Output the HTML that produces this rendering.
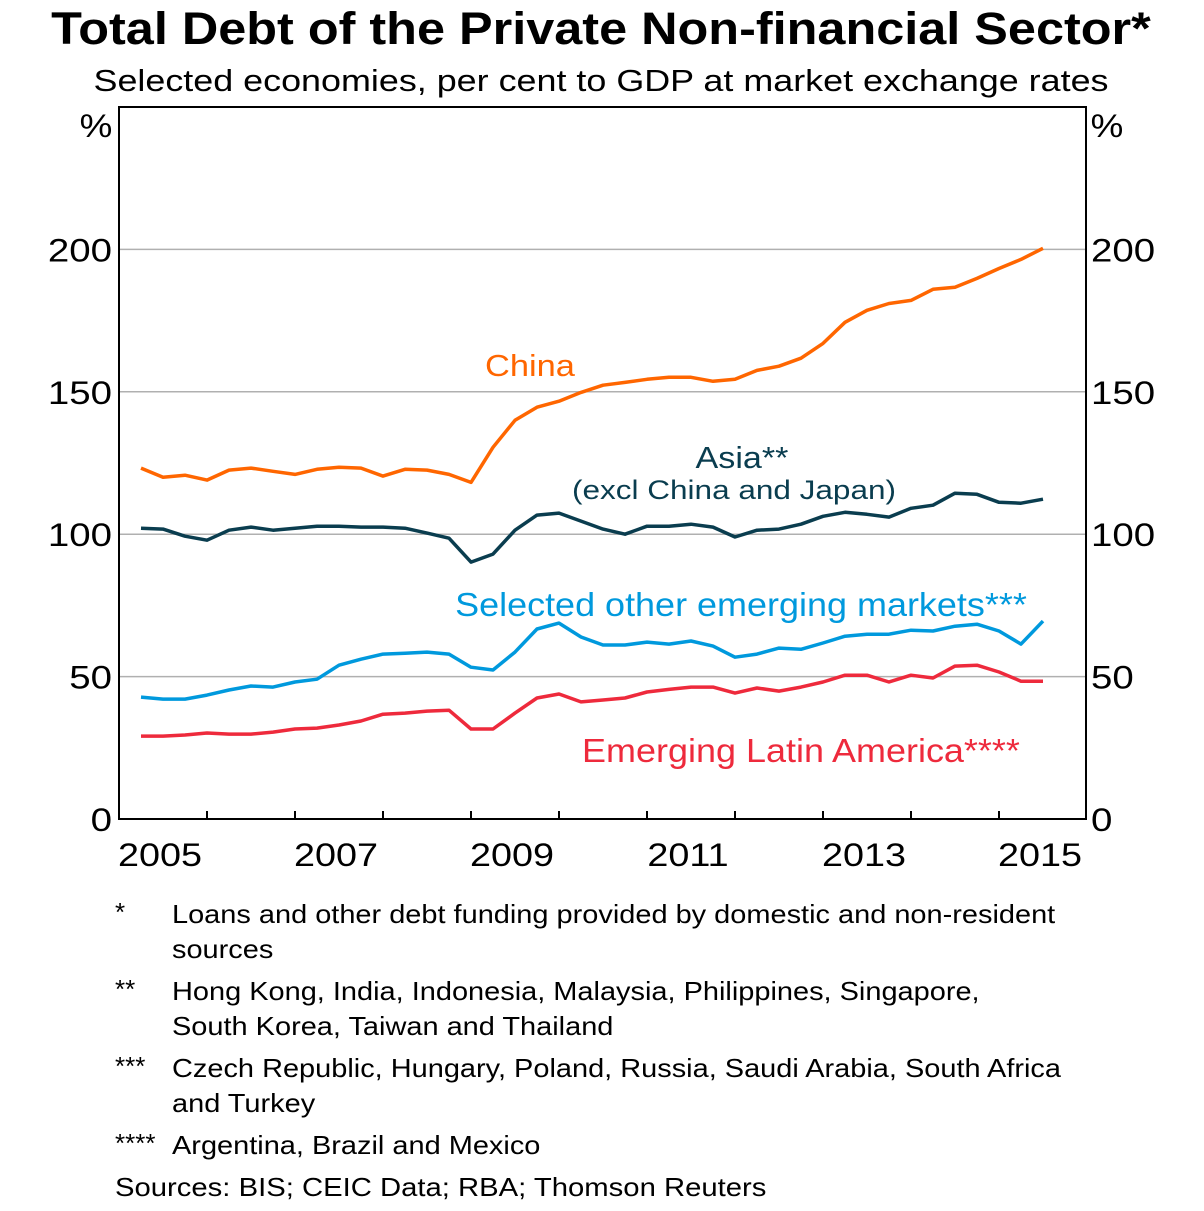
<!DOCTYPE html>
<html><head><meta charset="utf-8"><style>
body{margin:0;background:#fff;}
svg text{font-family:"Liberation Sans",Arial,sans-serif;}
</style></head><body>
<svg id="chart" width="1204" height="1206" viewBox="0 0 1204 1206" xmlns="http://www.w3.org/2000/svg">
<text data-sx="1.12" x="601" y="44" text-anchor="middle" font-size="45" font-weight="bold">Total Debt of the Private Non-financial Sector*</text>
<text data-sx="1.158" x="601" y="91" text-anchor="middle" font-size="31">Selected economies, per cent to GDP at market exchange rates</text>
<g id="grid"></g>
<g id="axes"></g>
<g id="series"></g>
<text data-sx="1.11" x="530" y="376" text-anchor="middle" font-size="31" fill="#ff6600">China</text>
<text data-sx="1.1" x="742" y="468" text-anchor="middle" font-size="31" fill="#0a3d4f">Asia**</text>
<text data-sx="1.167" x="734" y="499" text-anchor="middle" font-size="27" fill="#0a3d4f">(excl China and Japan)</text>
<text data-sx="1.09" x="741" y="616" text-anchor="middle" font-size="33" fill="#0099dd">Selected other emerging markets***</text>
<text data-sx="1.09" x="801" y="762" text-anchor="middle" font-size="33" fill="#ee2a3c">Emerging Latin America****</text>
<g font-size="26">
<text x="115" y="921">*</text><text data-sx="1.113" x="172" y="923">Loans and other debt funding provided by domestic and non-resident</text>
<text data-sx="1.113" x="172" y="958">sources</text>
<text x="115" y="998">**</text><text data-sx="1.113" x="172" y="1000">Hong Kong, India, Indonesia, Malaysia, Philippines, Singapore,</text>
<text data-sx="1.113" x="172" y="1035">South Korea, Taiwan and Thailand</text>
<text x="115" y="1075">***</text><text data-sx="1.113" x="172" y="1077">Czech Republic, Hungary, Poland, Russia, Saudi Arabia, South Africa</text>
<text data-sx="1.113" x="172" y="1112">and Turkey</text>
<text x="115" y="1152">****</text><text data-sx="1.113" x="172" y="1154">Argentina, Brazil and Mexico</text>
<text data-sx="1.125" x="115" y="1196">Sources:  BIS; CEIC Data; RBA; Thomson Reuters</text>
</g>
</svg>
<script>
const years = ["2005","2006","2007","2008","2009","2010","2011","2012","2013","2014","2015"];
const yTicks = [0,50,100,150,200];
const china = [123.2,120,120.7,119,122.5,123.2,122.1,121,122.8,123.5,123.2,120.4,122.8,122.5,121,118.2,130.5,140,144.6,146.7,149.8,152.3,153.3,154.4,155.1,155.1,153.7,154.4,157.5,159,161.8,167,174.4,178.6,181,182.1,186,186.7,189.8,193.3,196.5,200.4];
const asia = [102.1,101.8,99.3,97.9,101.4,102.5,101.4,102.1,102.8,102.8,102.5,102.5,102.1,100.4,98.6,90.2,93,101.4,106.7,107.4,104.6,101.8,100,102.8,102.8,103.5,102.5,99,101.4,101.8,103.5,106.3,107.7,107,106,109.1,110.2,114.4,114,111.2,110.9,112.3];
const otherEM = [42.8,42.1,42.1,43.5,45.3,46.7,46.3,48.1,49.1,54,56.1,57.9,58.2,58.6,57.9,53.3,52.3,58.6,66.7,68.8,63.9,61.1,61.1,62.1,61.4,62.5,60.7,56.8,57.9,60,59.6,61.8,64.2,64.9,64.9,66.3,66,67.7,68.4,66,61.4,69.5];
const latam = [29.1,29.1,29.5,30.2,29.8,29.8,30.5,31.6,31.9,33,34.4,36.8,37.2,37.9,38.2,31.6,31.6,37.2,42.5,43.9,41.1,41.8,42.5,44.6,45.5,46.3,46.3,44.2,46,44.9,46.3,48.1,50.5,50.5,48.1,50.5,49.5,53.7,54,51.6,48.4,48.4];

const NS="http://www.w3.org/2000/svg";
const L=119,R=1086,T=107,B=819;
const yearW=88;
function xq(i){return L+22*(i+1);}
function y(v){return B-(v/250)*(B-T);}
function mk(tag,attrs,parent){const e=document.createElementNS(NS,tag);for(const k in attrs)e.setAttribute(k,attrs[k]);parent.appendChild(e);return e;}
const grid=document.getElementById('grid'),axes=document.getElementById('axes'),ser=document.getElementById('series');
yTicks.forEach(v=>{
  if(v>0){const g=mk('line',{x1:L,x2:R,y1:y(v),y2:y(v),stroke:'#b0b0b0','stroke-width':1.5},grid);
  
  }
  const t1=mk('text',{x:L-7,y:y(v)+12,'text-anchor':'end','font-size':32,'data-sx':1.2},axes);t1.textContent=v;
  
  
  const t2=mk('text',{x:R+5,y:y(v)+12,'text-anchor':'start','font-size':32,'data-sx':1.2},axes);t2.textContent=v;
  
  
});
const p1=mk('text',{x:96,y:137,'text-anchor':'middle','font-size':32,'data-sx':1.15},axes);p1.textContent='%';


const p2=mk('text',{x:1107,y:137,'text-anchor':'middle','font-size':32,'data-sx':1.15},axes);p2.textContent='%';


const fr=mk('rect',{x:L,y:T,width:R-L,height:B-T,fill:'none',stroke:'#000','stroke-width':2},axes);


years.forEach((yr,i)=>{
  const cx=L+yearW*i+yearW/2;
  if(i%2===0){
  const t=mk('text',{x:cx-3,y:866,'text-anchor':'middle','font-size':32,'data-sx':1.18},axes);
  t.textContent=yr;
  
  }
  if(i>0){const tk=mk('line',{x1:L+yearW*i,x2:L+yearW*i,y1:B,y2:B-8,stroke:'#000','stroke-width':2},axes);
  
  }
});
function line(data,color,name){
  const d=data.map((v,i)=>(i?'L':'M')+xq(i).toFixed(1)+','+y(v).toFixed(1)).join(' ');
  const p=mk('path',{d:d,fill:'none',stroke:color,'stroke-width':3.5,'stroke-linejoin':'round'},ser);
  
  
}
line(china,'#ff6600','china-line');
line(asia,'#0a3d4f','asia-line');
line(otherEM,'#0099dd','other-em-line');
line(latam,'#ee2a3c','latam-line');
document.querySelectorAll('text[data-sx]').forEach(t=>{
  const w=t.getComputedTextLength()*parseFloat(t.getAttribute('data-sx'));
  t.setAttribute('textLength',w.toFixed(1));
  t.setAttribute('lengthAdjust','spacingAndGlyphs');
});
</script>
</body></html>
